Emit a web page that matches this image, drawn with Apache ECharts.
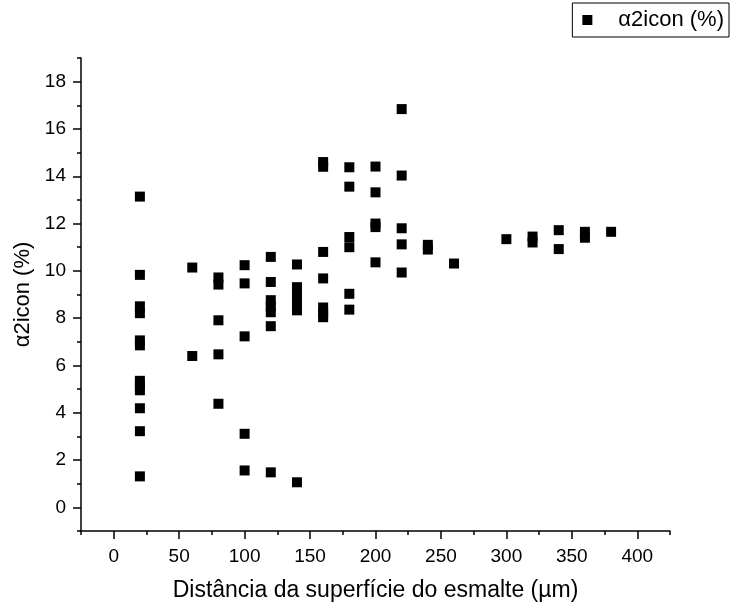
<!DOCTYPE html>
<html>
<head>
<meta charset="utf-8">
<script src="https://cdn.jsdelivr.net/npm/echarts@6.0.0/dist/echarts.min.js"></script>
<style>
  html, body { margin: 0; background: #fff; }
  #chart { width: 730px; height: 607px; }
</style>
</head>
<body>
<div id="chart"></div>
<script>
  // distância (µm) e α2icon (%), ponto a ponto
  const distancia = [
    20, 20, 20, 20, 20, 20, 20, 20, 20, 20, 20, 20,
    60, 60,
    80, 80, 80, 80, 80,
    100, 100, 100, 100, 100,
    120, 120, 120, 120, 120, 120, 120,
    140, 140, 140, 140, 140, 140,
    160, 160, 160, 160, 160, 160, 160,
    180, 180, 180, 180, 180, 180,
    200, 200, 200, 200, 200,
    220, 220, 220, 220, 220,
    240, 240,
    260,
    300,
    320, 320,
    340, 340,
    360, 360,
    380,
  ];
  const alfa = [
    13.14, 9.83, 8.5, 8.21, 7.06, 6.85, 5.35, 5.15, 4.95, 4.19, 3.22, 1.31,
    10.14, 6.4,
    9.72, 9.42, 7.91, 6.47, 4.38,
    10.24, 9.47, 7.23, 3.11, 1.56,
    10.59, 9.53, 8.76, 8.5, 8.25, 7.66, 1.48,
    10.27, 9.31, 8.95, 8.65, 8.33, 1.06,
    14.6, 14.4, 10.8, 9.68, 8.45, 8.2, 8.04,
    14.38, 13.56, 11.43, 11.0, 9.03, 8.36,
    14.41, 13.32, 12.0, 11.85, 10.36,
    16.84, 14.03, 11.8, 11.12, 9.93,
    11.1, 10.9,
    10.31,
    11.34,
    11.45, 11.2,
    11.72, 10.92,
    11.65, 11.4,
    11.65,
  ];
  const xTicks = [0, 50, 100, 150, 200, 250, 300, 350, 400];
  const yTicks = [0, 2, 4, 6, 8, 10, 12, 14, 16, 18];
  const serieNome = 'α2icon (%)';

  const fonte = "'Liberation Sans', Arial, sans-serif";
  const preto = '#000';

  const getOption = () => {
    const pontos = distancia.map((d, i) => [d, alfa[i]]);
    const linha = { color: preto, width: 1.5 };
    return {
      backgroundColor: '#fff',
      animation: false,
      textStyle: { fontFamily: fonte },
      grid: {
        left: 81,
        right: 60,
        top: 58,
        bottom: 76,
        containLabel: false,
        outerBoundsMode: 'none',
      },
      legend: {
        data: [serieNome],
        right: 1,
        top: 3,
        selectedMode: false,
        borderColor: preto,
        borderWidth: 1,
        borderRadius: 0,
        padding: [6, 5, 6, 10],
        icon: 'rect',
        itemWidth: 10,
        itemHeight: 10,
        itemStyle: { color: preto, opacity: 1 },
        textStyle: {
          fontSize: 22,
          color: preto,
          fontFamily: fonte,
          padding: [0, 0, 0, 21],
        },
      },
      xAxis: [
        {
          type: 'value',
          min: -25,
          max: 425,
          position: 'bottom',
          name: 'Distância da superfície do esmalte (µm)',
          nameLocation: 'middle',
          nameGap: 48,
          nameTextStyle: { fontSize: 23, color: preto, fontFamily: fonte },
          axisLine: { show: true, onZero: false, lineStyle: linha },
          axisTick: { show: true, length: 8, customValues: xTicks, lineStyle: linha },
          axisLabel: { customValues: xTicks, margin: 16, fontSize: 19, color: preto, fontFamily: fonte },
          splitLine: { show: false },
        },
        {
          // marcas menores, a cada 25 a partir de -25
          type: 'value',
          min: -25,
          max: 425,
          interval: 50,
          position: 'bottom',
          axisLine: { show: false, onZero: false },
          axisTick: { show: true, length: 4, lineStyle: linha },
          axisLabel: { show: false },
          splitLine: { show: false },
        },
      ],
      yAxis: [
        {
          type: 'value',
          min: -1,
          max: 19,
          position: 'left',
          name: serieNome,
          nameLocation: 'middle',
          nameGap: 39,
          nameTextStyle: { fontSize: 22, color: preto, fontFamily: fonte },
          axisLine: { show: true, onZero: false, lineStyle: linha },
          axisTick: { show: true, length: 8, customValues: yTicks, lineStyle: linha },
          axisLabel: { customValues: yTicks, margin: 15, fontSize: 19, color: preto, fontFamily: fonte },
          splitLine: { show: false },
        },
        {
          // marcas menores, nos valores ímpares
          type: 'value',
          min: -1,
          max: 19,
          interval: 2,
          position: 'left',
          axisLine: { show: false, onZero: false },
          axisTick: { show: true, length: 4, lineStyle: linha },
          axisLabel: { show: false },
          splitLine: { show: false },
        },
      ],
      series: [
        {
          name: serieNome,
          type: 'scatter',
          xAxisIndex: 0,
          yAxisIndex: 0,
          symbol: 'rect',
          symbolSize: 10,
          itemStyle: { color: preto, opacity: 1 },
          data: pontos,
        },
      ],
    };
  };

  const myChart = echarts.init(document.getElementById('chart'));
  myChart.setOption(getOption());
</script>
</body>
</html>
